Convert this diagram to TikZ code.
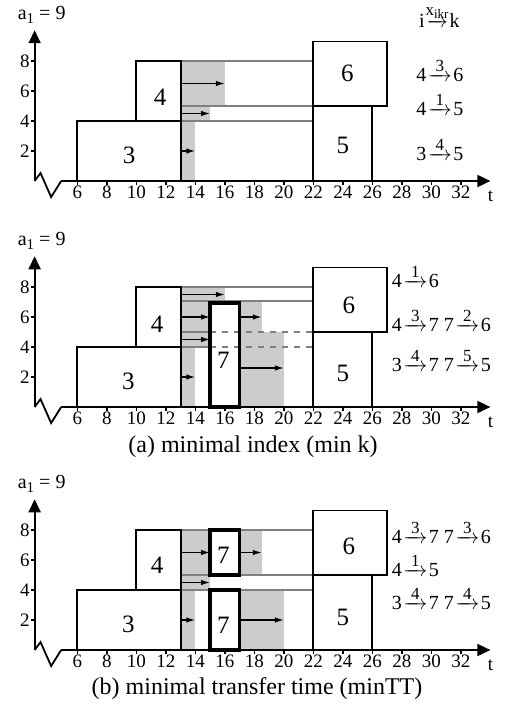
\documentclass[tikz,border=0pt]{standalone}
\usepackage{amsmath}
\usepackage{fontspec}
\setmainfont{Liberation Serif}
\usetikzlibrary{arrows.meta}
\definecolor{busyclr}{RGB}{204,204,204}
\definecolor{linkclr}{RGB}{128,128,128}
\newcommand{\fs}[1]{\fontsize{#1}{#1}\selectfont}
\newcommand{\harr}{\hbox to 24pt{\rightarrowfill}}
\newcommand{\mv}[3]{#1\kern1.5pt$\overset{\raisebox{-3pt}{\fs{17}#2}}{\harr}$\kern1.5pt#3}
\newcommand{\axx}{3.1}
\tikzset{
  %% job blocks
  jobbox/.style={draw=black,line width=1.9pt},
  newbox/.style={draw=black,line width=3.6pt},
  %% machine lines and busy time
  link/.style={draw=linkclr,line width=1.6pt},
  dlink/.style={link,dash pattern=on 6pt off 6pt},
  busy/.style={fill=busyclr},
  %% arrows
  mvarr/.style={-{Latex[length=9pt,width=5.5pt]},line width=1.4pt},
  axisln/.style={line width=1.8pt},
  axarr/.style={axisln,-{Triangle[length=13pt,width=12pt]}},
  %% text
  joblbl/.style={font=\fs{25},inner sep=0pt},
  ticklbl/.style={font=\fs{19},inner sep=0pt},
  movelbl/.style={font=\fs{20},anchor=base west,inner sep=0pt},
  caplbl/.style={font=\fs{24},inner sep=0pt},
}
% axes of one chart
\newcommand{\ganttaxes}[1]{%
  \draw[axarr] (\axx,0) -- (\axx,10.05);
  \draw[axisln] (\axx,0) -- ++(0.4,0.53) -- ++(0.72,-1.6) -- (\axx+1.8,0) coordinate (#1h);
  \draw[axarr] (#1h) -- (34,0);
  \foreach \t in {6,8,...,32} {
    \draw[line width=1.2pt] (\t,0) -- (\t,-0.25);
    \node[ticklbl] (#1x\t) at (\t,-0.78) {\t};
  }
  \foreach \v in {2,4,6,8} {
    \draw[line width=1.2pt] (\axx-0.22,\v) -- (\axx,\v);
    \node[ticklbl,anchor=east] (#1y\v) at (2.78,\v) {\v};
  }
  \node[font=\fs{20},anchor=base west,inner sep=0pt] (#1a) at (1.95,10.75)
    {a\raisebox{-4pt}{\fs{15}1} = 9};
  \node[ticklbl] (#1t) at (34,-1.0) {t};
}
\begin{document}
\begin{tikzpicture}
\useasboundingbox (0,0) rectangle (515pt,-709pt);

% chart 1
\begin{scope}[shift={(-11.1pt,-181pt)},x=14.75pt,y=15pt]
  \fill[busy] (13,5) rectangle (16,8);
  \fill[busy] (13,4) rectangle (15,5);
  \fill[busy] (13,0) rectangle (14,4);
  \foreach \v in {8,5,4} \draw[link] (13,\v) -- (22,\v);
  \draw[mvarr] (13,6.5) -- (16,6.5);
  \draw[mvarr] (13,4.5) -- (15,4.5);
  \draw[mvarr] (13,2) -- (14,2);
  \draw[jobbox] (6,0) rectangle (13,4);
  \draw[jobbox] (10,4) rectangle (13,8);
  \draw[jobbox] (22,0) rectangle (26,5);
  \draw[jobbox] (22,5) rectangle (27,9.3);
  \node[joblbl] (p1j3) at (9.5,1.68) {3};
  \node[joblbl] (p1j4) at (11.6,5.6) {4};
  \node[joblbl] (p1j6) at (24.3,7.2) {6};
  \node[joblbl] (p1j5) at (24.0,2.4) {5};
  \ganttaxes{p1}
  \node[movelbl] (p1hd) at (29.15,10.2)
    {i\kern1pt$\overset{\raisebox{-3pt}{\fs{17}x\raisebox{-3pt}{\fs{13}ikr}}}{\hbox to 20pt{\rightarrowfill}}$\kern1pt k};
  \node[movelbl] (p1m1) at (28.96,6.62) {\mv{4}{3}{6}};
  \node[movelbl] (p1m2) at (28.96,4.4) {\mv{4}{1}{5}};
  \node[movelbl] (p1m3) at (28.96,1.4) {\mv{3}{4}{5}};
\end{scope}

% chart 2
\begin{scope}[shift={(-11.1pt,-407pt)},x=14.75pt,y=15pt]
  \fill[busy] (13,7) rectangle (16,8);
  \fill[busy] (13,4) rectangle (15,7);
  \fill[busy] (13,0) rectangle (14,4);
  \fill[busy] (17,5) rectangle (18.5,7);
  \fill[busy] (17,0) rectangle (20,5);
  \draw[link] (13,8) -- (22,8);
  \draw[link] (13,7.05) -- (22,7.05);
  \foreach \v in {5,4} {
    \draw[link] (13,\v) -- (15,\v);
    \draw[dlink] (15,\v) -- (22,\v);
  }
  \draw[mvarr] (13,7.5) -- (16,7.5);
  \draw[mvarr] (13,6) -- (15,6);
  \draw[mvarr] (13,4.5) -- (15,4.5);
  \draw[mvarr] (13,2) -- (14,2);
  \draw[mvarr] (17,6) -- (18.5,6);
  \draw[mvarr] (17,2.6) -- (20,2.6);
  \draw[jobbox] (6,0) rectangle (13,4);
  \draw[jobbox] (10,4) rectangle (13,8);
  \draw[jobbox] (22,0) rectangle (26,5);
  \draw[jobbox] (22,5) rectangle (27,9.3);
  \draw[newbox] (15,0) rectangle (17,6.95);
  \node[joblbl] (p2j3) at (9.45,1.7) {3};
  \node[joblbl] (p2j4) at (11.4,5.5) {4};
  \node[joblbl] (p2j7) at (15.9,3.1) {7};
  \node[joblbl] (p2j6) at (24.4,6.8) {6};
  \node[joblbl] (p2j5) at (24.0,2.25) {5};
  \ganttaxes{p2}
  \node[movelbl] (p2m1) at (27.3,7.98) {\mv{4}{1}{6}};
  \node[movelbl] (p2m2) at (27.3,5.02) {\mv{4}{3}{7} \mv{7}{2}{6}};
  \node[movelbl] (p2m3) at (27.3,2.35) {\mv{3}{4}{7} \mv{7}{5}{5}};
\end{scope}
\node[caplbl] (capa) at (253pt,-447pt) {(a) minimal index (min k)};

% chart 3
\begin{scope}[shift={(-11.1pt,-650pt)},x=14.75pt,y=15pt]
  \fill[busy] (13,4) rectangle (15,8);
  \fill[busy] (13,0) rectangle (14,4);
  \fill[busy] (17,5) rectangle (18.5,8);
  \fill[busy] (17,0) rectangle (20,4);
  \foreach \v in {8,5,4} \draw[link] (13,\v) -- (22,\v);
  \draw[mvarr] (13,6.5) -- (15,6.5);
  \draw[mvarr] (13,4.5) -- (15,4.5);
  \draw[mvarr] (13,2) -- (14,2);
  \draw[mvarr] (17,6.5) -- (18.5,6.5);
  \draw[mvarr] (17,2) -- (20,2);
  \draw[jobbox] (6,0) rectangle (13,4);
  \draw[jobbox] (10,4) rectangle (13,8);
  \draw[jobbox] (22,0) rectangle (26,5);
  \draw[jobbox] (22,5) rectangle (27,9.3);
  \draw[newbox] (15,5) rectangle (17,8);
  \draw[newbox] (15,0) rectangle (17,4);
  \node[joblbl] (p3j3) at (9.45,1.73) {3};
  \node[joblbl] (p3j4) at (11.4,5.67) {4};
  \node[joblbl] (p3j7a) at (15.9,6.33) {7};
  \node[joblbl] (p3j7b) at (15.9,1.67) {7};
  \node[joblbl] (p3j6) at (24.4,6.93) {6};
  \node[joblbl] (p3j5) at (24.0,2.2) {5};
  \ganttaxes{p3}
  \node[movelbl] (p3m1) at (27.3,7.07) {\mv{4}{3}{7} \mv{7}{3}{6}};
  \node[movelbl] (p3m2) at (27.3,4.93) {\mv{4}{1}{5}};
  \node[movelbl] (p3m3) at (27.3,2.71) {\mv{3}{4}{7} \mv{7}{4}{5}};
\end{scope}
\node[caplbl] (capb) at (257pt,-689pt) {(b) minimal transfer time (minTT)};
\end{tikzpicture}
\end{document}
